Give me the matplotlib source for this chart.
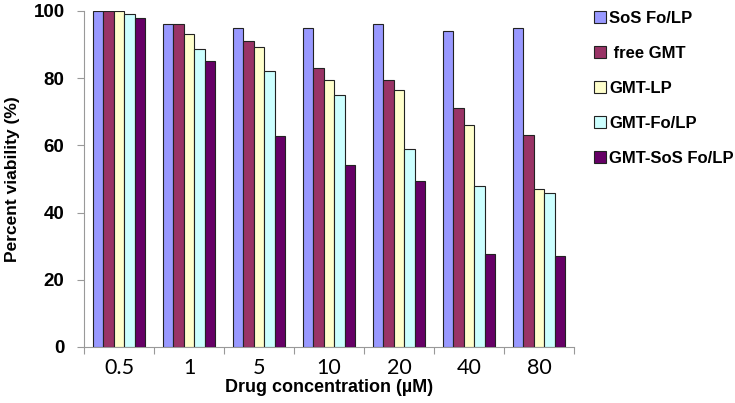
import matplotlib
matplotlib.use("Agg")
import matplotlib.pyplot as plt
import numpy as np

concentrations = ["0.5", "1", "5", "10", "20", "40", "80"]
series_names = ["SoS Fo/LP", " free GMT", "GMT-LP", "GMT-Fo/LP", "GMT-SoS Fo/LP"]
sos_fo_lp = [100, 96, 95, 95, 96, 94, 95]
free_gmt = [100, 96, 91, 83, 79.3, 71, 63]
gmt_lp = [100, 93, 89.2, 79.5, 76.5, 66, 47]
gmt_fo_lp = [99, 88.7, 82.2, 75, 59, 48, 45.7]
gmt_sos_fo_lp = [98, 85, 62.7, 54.2, 49.3, 27.8, 27.2]
colors = ["#9999FF", "#993366", "#FFFFCC", "#CCFFFF", "#660066"]

all_series = [sos_fo_lp, free_gmt, gmt_lp, gmt_fo_lp, gmt_sos_fo_lp]

fig = plt.figure(figsize=(7.35, 4.03), dpi=100)
ax = fig.add_axes([0.1143, 0.139, 0.6667, 0.834])

x = np.arange(len(concentrations))
w = 0.151
for i, (vals, name, c) in enumerate(zip(all_series, series_names, colors)):
    ax.bar(x + (i - 2) * w, vals, w, color=c, edgecolor="#222222",
           linewidth=0.8, label=name, zorder=3)

ax.set_xlim(-0.5, len(concentrations) - 0.5)
ax.set_ylim(0, 100)
ax.set_yticks([0, 20, 40, 60, 80, 100])
ax.set_yticklabels(["0", "20", "40", "60", "80", "100"],
                   fontfamily="Liberation Sans", fontweight="bold", fontsize=13.5)

# boundaries as major ticks, labels on minor ticks at centers
ax.set_xticks(np.arange(-0.5, len(concentrations), 1.0))
ax.set_xticklabels([])
ax.set_xticks(x, minor=True)
ax.set_xticklabels(concentrations, minor=True, fontfamily="Lato", fontsize=15.5)
ax.tick_params(axis="x", which="major", length=5, color="#999999", width=0.8)
ax.tick_params(axis="x", which="minor", length=0, pad=8)
ax.tick_params(axis="y", length=5, color="#999999", width=0.8, pad=9)

for s in ["top", "right"]:
    ax.spines[s].set_visible(False)
for s in ["left", "bottom"]:
    ax.spines[s].set_color("#999999")
    ax.spines[s].set_linewidth(0.8)

ax.set_ylabel("Percent viability (%)", fontfamily="Liberation Sans",
              fontweight="bold", fontsize=12.5, labelpad=10)
ax.set_xlabel("Drug concentration (\u00b5M)", fontfamily="Liberation Sans",
              fontweight="bold", fontsize=13, labelpad=1)

fig.legend(loc="upper left", bbox_to_anchor=(0.799, 0.99), frameon=False,
           prop={"family": "Liberation Sans", "weight": "bold", "size": 12},
           handlelength=0.7, handleheight=0.7, handletextpad=0.2,
           labelspacing=1.2, borderaxespad=0)

fig.savefig("out.png", dpi=100)
